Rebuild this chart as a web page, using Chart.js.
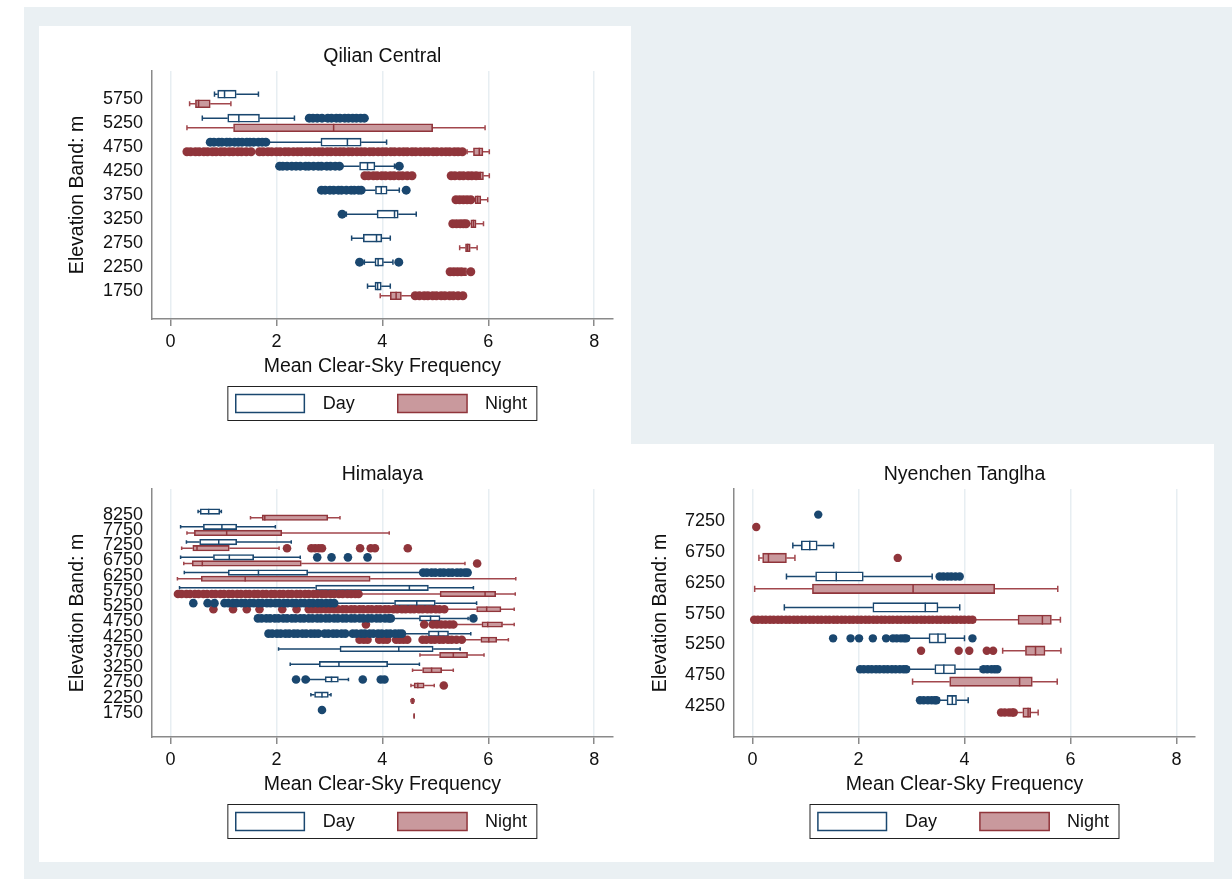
<!DOCTYPE html>
<html>
<head>
<meta charset="utf-8">
<script src="https://cdn.jsdelivr.net/npm/chart.js@4.4.1/dist/chart.umd.min.js"></script>
<style>
body { margin: 0; background: #fff; width: 1232px; height: 879px; position: relative; overflow: hidden; }
#bg { position: absolute; left: 24px; top: 7px; width: 1208px; height: 872px; background: #eaf0f3; }
.white { position: absolute; background: #fff; }
canvas { position: absolute; }
</style>
</head>
<body>
<div id="bg"></div>
<div class="white" style="left:39px;top:26px;width:592px;height:836px"></div>
<div class="white" style="left:631px;top:444px;width:583px;height:418px"></div>
<canvas id="qilian" width="592" height="418" style="left:39px;top:26px;width:592px;height:418px"></canvas>
<canvas id="himalaya" width="592" height="418" style="left:39px;top:444px;width:592px;height:418px"></canvas>
<canvas id="nyenchen" width="583" height="418" style="left:631px;top:444px;width:583px;height:418px"></canvas>
<script>
const xTicks = [0, 2, 4, 6, 8];

// box stats per band: [lower whisker, q1, median, q3, upper whisker]
const qilianBands = [5750, 5250, 4750, 4250, 3750, 3250, 2750, 2250, 1750];
const qilianDay = [
  [0.83, 0.89, 1.02, 1.24, 1.66], [0.60, 1.08, 1.29, 1.68, 2.34], [1.85, 2.84, 3.34, 3.60, 4.08],
  [3.22, 3.57, 3.72, 3.86, 4.23], [3.62, 3.87, 3.98, 4.09, 4.32], [3.32, 3.90, 4.23, 4.30, 4.64],
  [3.42, 3.64, 3.89, 3.99, 4.15], [3.66, 3.86, 3.92, 4.02, 4.20], [3.72, 3.86, 3.91, 3.98, 4.15]
];
const qilianNight = [
  [0.36, 0.47, 0.53, 0.75, 1.14], [0.31, 1.19, 3.08, 4.95, 5.94], [5.60, 5.72, 5.83, 5.90, 6.02],
  [5.78, 5.81, 5.85, 5.91, 6.02], [5.70, 5.75, 5.80, 5.86, 5.99], [5.62, 5.67, 5.72, 5.77, 5.91],
  [5.46, 5.57, 5.61, 5.66, 5.79], [5.50, 5.53, 5.56, 5.59, 5.62], [3.96, 4.15, 4.26, 4.36, 4.60]
];
const qilianDayOut = [
  [],
  [2.62, 2.69, 2.77, 2.86, 2.97, 3.04, 3.13, 3.2, 3.29, 3.36, 3.44, 3.51, 3.59, 3.66],
  [0.75, 0.82, 0.91, 0.97, 1.06, 1.12, 1.21, 1.28, 1.35, 1.44, 1.5, 1.57, 1.66, 1.73, 1.8],
  [2.06, 2.12, 2.2, 2.29, 2.37, 2.45, 2.55, 2.61, 2.7, 2.79, 2.85, 2.95, 3.02, 3.11, 3.19, 4.32],
  [2.85, 2.92, 3.01, 3.08, 3.17, 3.23, 3.32, 3.41, 3.47, 3.55, 3.6, 4.45],
  [3.24],
  [],
  [3.57, 4.31],
  []
];
const qilianNightOut = [
  [],
  [],
  [0.31, 0.38, 0.47, 0.54, 0.63, 0.7, 0.79, 0.86, 0.95, 1.02, 1.11, 1.18, 1.27, 1.34, 1.43, 1.52, 1.68, 1.75,
   1.84, 1.91, 2.0, 2.07, 2.16, 2.23, 2.32, 2.4, 2.47, 2.56, 2.63, 2.72, 2.8, 2.87, 2.96, 3.03, 3.12, 3.2, 3.27,
   3.36, 3.43, 3.52, 3.6, 3.67, 3.76, 3.83, 3.92, 4.0, 4.07, 4.16, 4.23, 4.32, 4.4, 4.47, 4.56, 4.63, 4.72, 4.8,
   4.87, 4.96, 5.03, 5.12, 5.2, 5.27, 5.36, 5.43, 5.51],
  [3.67, 3.74, 3.83, 3.9, 3.99, 4.06, 4.15, 4.22, 4.31, 4.38, 4.47, 4.56, 5.3, 5.37, 5.46, 5.53, 5.62, 5.69, 5.77],
  [5.39, 5.46, 5.53, 5.6, 5.67],
  [5.33, 5.4, 5.47, 5.53, 5.58],
  [],
  [5.28, 5.35, 5.42, 5.49, 5.67],
  [4.62, 4.7, 4.79, 4.86, 4.95, 5.02, 5.11, 5.18, 5.27, 5.34, 5.43, 5.52]
];

const himalayaBands = [8250, 7750, 7250, 6750, 6250, 5750, 5250, 4750, 4250, 3750, 3250, 2750, 2250, 1750];
const himalayaDay = [
  [0.52, 0.56, 0.72, 0.93, 0.96], [0.19, 0.62, 0.97, 1.25, 1.98], [0.30, 0.55, 0.91, 1.25, 2.28],
  [0.19, 0.81, 1.11, 1.57, 2.45], [0.26, 1.09, 1.66, 2.59, 4.72], [0.17, 2.74, 4.51, 4.87, 5.72],
  [3.15, 4.23, 4.65, 5.00, 5.78], [4.20, 4.70, 4.91, 5.09, 5.62], [4.40, 4.87, 5.06, 5.25, 5.67],
  [2.04, 3.20, 4.31, 4.96, 5.47], [2.26, 2.81, 3.18, 4.10, 4.70], [2.62, 2.92, 3.04, 3.17, 3.36],
  [2.65, 2.72, 2.86, 2.98, 3.03], null
];
const himalayaNight = [
  [1.51, 1.73, 1.78, 2.97, 3.20], [0.31, 0.45, 1.06, 2.10, 4.13], [0.21, 0.42, 0.50, 1.11, 2.05],
  [0.25, 0.41, 0.60, 2.47, 5.56], [0.13, 0.58, 1.41, 3.77, 6.52], [3.60, 5.09, 5.94, 6.14, 6.51],
  [5.20, 5.78, 5.97, 6.24, 6.49], [5.40, 5.88, 5.99, 6.27, 6.49], [5.55, 5.86, 6.01, 6.16, 6.38],
  [4.71, 5.08, 5.34, 5.61, 5.92], [4.57, 4.76, 4.93, 5.12, 5.34], [4.54, 4.60, 4.67, 4.79, 4.98],
  [4.54, 4.55, 4.57, 4.59, 4.60], [4.60, 4.60, 4.60, 4.60, 4.60]
];
const himalayaDayOut = [
  [], [], [],
  [2.77, 3.04, 3.35, 3.72],
  [4.77, 4.84, 4.93, 5.0, 5.09, 5.16, 5.25, 5.32, 5.41, 5.48, 5.56, 5.61],
  [],
  [0.43, 0.7, 0.83, 1.02, 1.09, 1.18, 1.25, 1.34, 1.41, 1.5, 1.57, 1.66, 1.73, 1.82, 1.89, 1.98, 2.05, 2.14,
   2.21, 2.3, 2.37, 2.46, 2.53, 2.62, 2.69, 2.78, 2.85, 2.94, 3.02, 3.09],
  [1.65, 1.72, 1.81, 1.88, 1.97, 2.04, 2.13, 2.2, 2.29, 2.36, 2.45, 2.52, 2.61, 2.68, 2.77, 2.84, 2.93, 3.0,
   3.09, 3.16, 3.25, 3.32, 3.41, 3.48, 3.57, 3.64, 3.73, 3.8, 3.89, 3.96, 4.05, 4.12, 4.16, 5.72],
  [1.85, 1.92, 2.01, 2.08, 2.17, 2.24, 2.33, 2.4, 2.49, 2.56, 2.65, 2.72, 2.79, 2.91, 2.98, 3.07, 3.14, 3.23,
   3.3, 3.44, 3.51, 3.6, 3.67, 3.76, 3.83, 3.92, 3.99, 4.08, 4.15, 4.24, 4.31, 4.37],
  [], [],
  [2.37, 2.55, 3.63, 3.97, 4.04],
  [],
  [2.86]
];
const himalayaNightOut = [
  [], [],
  [2.2, 2.66, 2.73, 2.8, 2.86, 3.58, 3.78, 3.86, 4.48],
  [5.79],
  [],
  [0.14, 0.21, 0.3, 0.37, 0.46, 0.53, 0.62, 0.69, 0.78, 0.85, 0.94, 1.01, 1.1, 1.17, 1.26, 1.33, 1.42, 1.49,
   1.58, 1.65, 1.74, 1.81, 1.9, 1.97, 2.06, 2.13, 2.22, 2.29, 2.38, 2.45, 2.54, 2.61, 2.7, 2.77, 2.86, 2.93,
   3.02, 3.09, 3.18, 3.25, 3.34, 3.41, 3.49, 3.55],
  [0.81, 1.18, 1.44, 1.68, 2.11, 2.38, 2.61, 2.68, 2.77, 2.84, 2.93, 3.0, 3.09, 3.16, 3.25, 3.32, 3.41, 3.48,
   3.57, 3.64, 3.73, 3.8, 3.89, 3.96, 4.05, 4.12, 4.21, 4.28, 4.37, 4.44, 4.53, 4.6, 4.69, 4.76, 4.85, 4.92,
   5.01, 5.08, 5.17],
  [3.69, 4.79, 4.95, 5.03, 5.11, 5.19, 5.27, 5.34],
  [3.57, 3.65, 3.72, 3.94, 4.02, 4.09, 4.26, 4.33, 4.4, 4.47, 4.76, 4.83, 4.92, 4.99, 5.08, 5.15, 5.24, 5.31,
   5.4, 5.5],
  [], [],
  [5.16],
  [], []
];

const nyenchenBands = [7250, 6750, 6250, 5750, 5250, 4750, 4250];
const nyenchenDay = [
  null, [0.76, 0.92, 1.08, 1.22, 1.53], [0.64, 1.19, 1.58, 2.09, 3.39], [0.60, 2.27, 3.26, 3.50, 3.91],
  [2.95, 3.33, 3.50, 3.65, 4.00], [2.95, 3.44, 3.61, 3.83, 4.30], [3.52, 3.67, 3.77, 3.85, 4.07]
];
const nyenchenNight = [
  null, [0.12, 0.19, 0.30, 0.64, 0.80], [0.04, 1.13, 3.03, 4.57, 5.76], [4.20, 5.01, 5.47, 5.64, 5.81],
  [4.72, 5.15, 5.34, 5.52, 5.82], [3.02, 3.72, 5.04, 5.28, 5.75], [4.95, 5.10, 5.20, 5.25, 5.39]
];
const nyenchenDayOut = [
  [1.24],
  [],
  [3.53, 3.6, 3.68, 3.75, 3.83, 3.91],
  [],
  [1.52, 1.85, 2.01, 2.27, 2.52, 2.65, 2.72, 2.8, 2.86, 2.9, 4.15],
  [2.03, 2.1, 2.18, 2.25, 2.33, 2.4, 2.48, 2.55, 2.63, 2.7, 2.78, 2.85, 2.9, 4.36, 4.43, 4.51, 4.57, 4.62],
  [3.16, 3.23, 3.31, 3.38, 3.44, 3.47]
];
const nyenchenNightOut = [
  [0.07],
  [2.74],
  [],
  [0.03, 0.1, 0.18, 0.25, 0.33, 0.4, 0.48, 0.55, 0.63, 0.7, 0.78, 0.85, 0.93, 1.0, 1.08, 1.15, 1.23, 1.3,
   1.38, 1.45, 1.53, 1.6, 1.68, 1.75, 1.83, 1.9, 1.98, 2.05, 2.13, 2.2, 2.28, 2.35, 2.43, 2.5, 2.58, 2.65,
   2.73, 2.8, 2.88, 2.95, 3.03, 3.1, 3.18, 3.25, 3.33, 3.4, 3.48, 3.55, 3.63, 3.7, 3.78, 3.85, 3.93, 4.0,
   4.08, 4.15],
  [3.18, 3.89, 4.09, 4.42, 4.54],
  [],
  [4.69, 4.76, 4.84, 4.9, 4.93]
];

const DAY = '#1a476f';
const NIGHT = '#90353b';
const NIGHT_FILL = '#c9999d';
const NIGHT_WHISK = '#a2474d';
const AXIS = '#8a8a8a';
const GRID = '#e7eef2';
const TEXT = '#111';
const OFF = 100; // day sits above the band, night below

Chart.defaults.font.family = '"Liberation Sans", Arial, sans-serif';

function boxData(bands, boxes, off) {
  const out = [];
  bands.forEach((b, i) => {
    if (boxes[i]) out.push({ y: b + off, x: [boxes[i][1], boxes[i][3]], s: boxes[i] });
  });
  return out;
}

function outData(bands, outs, off) {
  const out = [];
  bands.forEach((b, i) => outs[i].forEach(v => out.push({ x: v, y: b + off })));
  return out;
}

// whiskers + caps under the boxes, medians on top of them, framed legend underneath
const boxPlugin = {
  id: 'boxPlugin',
  beforeDatasetsDraw(chart) {
    const ctx = chart.ctx, xs = chart.scales.x;
    chart.data.datasets.forEach((ds, di) => {
      if (ds.type !== 'bar') return;
      const meta = chart.getDatasetMeta(di);
      ctx.save();
      ctx.strokeStyle = ds.whiskerColor;
      ctx.lineWidth = 1.5;
      meta.data.forEach((el, i) => {
        const p = ds.data[i].s.map(v => xs.getPixelForValue(v));
        const y = el.y, c = el.height * 0.32;
        ctx.beginPath();
        ctx.moveTo(p[0], y); ctx.lineTo(p[1], y);
        ctx.moveTo(p[3], y); ctx.lineTo(p[4], y);
        ctx.moveTo(p[0], y - c); ctx.lineTo(p[0], y + c);
        ctx.moveTo(p[4], y - c); ctx.lineTo(p[4], y + c);
        ctx.stroke();
      });
      ctx.restore();
    });
  },
  afterDatasetDraw(chart, args) {
    const ds = chart.data.datasets[args.index];
    if (ds.type !== 'bar') return;
    const ctx = chart.ctx, xs = chart.scales.x;
    ctx.save();
    ctx.strokeStyle = ds.borderColor;
    ctx.lineWidth = 1.5;
    args.meta.data.forEach((el, i) => {
      const m = xs.getPixelForValue(ds.data[i].s[2]);
      ctx.beginPath();
      ctx.moveTo(m, el.y - el.height / 2);
      ctx.lineTo(m, el.y + el.height / 2);
      ctx.stroke();
    });
    ctx.restore();
  },
  afterDraw(chart) {
    const ctx = chart.ctx, a = chart.chartArea;
    const cx = (a.left + a.right) / 2, top = a.bottom + 67;
    ctx.save();
    ctx.strokeStyle = '#222';
    ctx.lineWidth = 1;
    ctx.strokeRect(cx - 154.5, top + 0.5, 309, 34);
    ctx.lineWidth = 1.5;
    ctx.fillStyle = '#fff';
    ctx.strokeStyle = DAY;
    ctx.fillRect(cx - 146.6, top + 8.5, 68.6, 18);
    ctx.strokeRect(cx - 146.6, top + 8.5, 68.6, 18);
    ctx.fillStyle = NIGHT_FILL;
    ctx.strokeStyle = NIGHT;
    ctx.fillRect(cx + 15.4, top + 8.5, 69.3, 18);
    ctx.strokeRect(cx + 15.4, top + 8.5, 69.3, 18);
    ctx.fillStyle = TEXT;
    ctx.font = '18px "Liberation Sans", Arial, sans-serif';
    ctx.textBaseline = 'middle';
    ctx.fillText('Day', cx - 59.6, top + 18);
    ctx.fillText('Night', cx + 102.6, top + 18);
    ctx.restore();
  }
};

function makeChart(id, cfg) {
  new Chart(document.getElementById(id), {
    type: 'scatter',
    data: {
      datasets: [
        { type: 'scatter', label: 'Day', data: outData(cfg.bands, cfg.dayOut, OFF),
          backgroundColor: DAY, borderWidth: 0, pointRadius: cfg.r },
        { type: 'scatter', label: 'Night', data: outData(cfg.bands, cfg.nightOut, -OFF),
          backgroundColor: NIGHT, borderWidth: 0, pointRadius: cfg.r },
        { type: 'bar', label: 'Day', indexAxis: 'y', data: boxData(cfg.bands, cfg.day, OFF),
          backgroundColor: '#fff', borderColor: DAY, borderWidth: 1.6, borderSkipped: false,
          barThickness: cfg.thick, grouped: false, whiskerColor: DAY },
        { type: 'bar', label: 'Night', indexAxis: 'y', data: boxData(cfg.bands, cfg.night, -OFF),
          backgroundColor: NIGHT_FILL, borderColor: NIGHT, borderWidth: 1.6, borderSkipped: false,
          barThickness: cfg.thick, grouped: false, whiskerColor: NIGHT_WHISK }
      ]
    },
    options: {
      responsive: false,
      animation: false,
      events: [],
      layout: { padding: { left: 0, right: cfg.right, top: 0, bottom: 65 } },
      plugins: {
        legend: { display: false },
        tooltip: { enabled: false },
        title: {
          display: true, text: cfg.title, color: TEXT, fullSize: false,
          font: { size: 19.5, weight: 'normal' }, padding: { top: 19.3, bottom: 2.3 }
        }
      },
      scales: {
        x: {
          type: 'linear', min: -0.35, max: 8.35, offset: false,
          afterBuildTicks: s => { s.ticks = xTicks.map(v => ({ value: v })); },
          afterFit: s => { s.height = 60; },
          grid: { color: GRID, lineWidth: 1.5, offset: false, drawTicks: true, tickLength: 7, tickColor: AXIS, tickWidth: 1.5 },
          border: { display: true, color: AXIS, width: 1.5 },
          ticks: { color: TEXT, font: { size: 18 }, padding: 5, maxRotation: 0, callback: v => String(v) },
          title: { display: true, text: 'Mean Clear-Sky Frequency', color: TEXT, font: { size: 19.5 }, padding: { top: 0, bottom: 0.5 } }
        },
        y: {
          type: 'linear', min: cfg.ymin, max: cfg.ymax, offset: false,
          afterBuildTicks: s => { s.ticks = cfg.bands.map(v => ({ value: v })); },
          afterFit: s => { s.width = cfg.yw; },
          grid: { display: false, drawTicks: false, offset: false },
          border: { display: true, color: AXIS, width: 1.5 },
          ticks: { color: TEXT, font: { size: 18 }, padding: 9, autoSkip: false, callback: v => String(v) },
          title: { display: true, text: 'Elevation Band: m', color: TEXT, font: { size: 19.5 }, padding: { top: cfg.ytp, bottom: 0 } }
        }
      }
    },
    plugins: [boxPlugin]
  });
}

makeChart('qilian', {
  title: 'Qilian Central', bands: qilianBands, day: qilianDay, night: qilianNight,
  dayOut: qilianDayOut, nightOut: qilianNightOut,
  ymin: 1165, ymax: 6333, yw: 113, ytp: 27, right: 18.3, thick: 8, r: 4.5
});
makeChart('himalaya', {
  title: 'Himalaya', bands: himalayaBands, day: himalayaDay, night: himalayaNight,
  dayOut: himalayaDayOut, nightOut: himalayaNightOut,
  ymin: 964, ymax: 9089, yw: 113, ytp: 27, right: 18.3, thick: 5.5, r: 4.3
});
makeChart('nyenchen', {
  title: 'Nyenchen Tanglha', bands: nyenchenBands, day: nyenchenDay, night: nyenchenNight,
  dayOut: nyenchenDayOut, nightOut: nyenchenNightOut,
  ymin: 3755, ymax: 7764, yw: 103, ytp: 17.6, right: 19, thick: 9.5, r: 4.2
});
</script>
</body>
</html>
